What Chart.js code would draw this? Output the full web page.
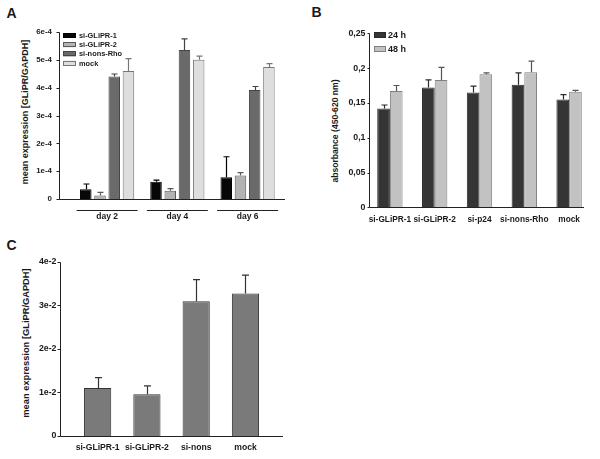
<!DOCTYPE html>
<html><head><meta charset="UTF-8"><title>GLiPR knockdown</title>
<script src="https://cdn.jsdelivr.net/npm/chart.js"></script>
<style>
    body { margin: 0; background: #fff; width: 600px; height: 459px; position: relative; overflow: hidden; font-family: "Liberation Sans", Arial, sans-serif; color: #1a1a1a; }
    canvas { position: absolute; }
    .letter { position: absolute; font-weight: bold; font-size: 14px; line-height: 14px; }
    .ytitle { position: absolute; font-weight: bold; white-space: nowrap; transform: translate(-50%, -50%) rotate(-90deg); }
</style></head><body>

<div class="letter" style="left:6.5px;top:5.5px">A</div>
<div class="letter" style="left:311.5px;top:5px">B</div>
<div class="letter" style="left:6.5px;top:237.5px">C</div>

<div class="ytitle" style="left:25px;top:112px;font-size:9px">mean expression [GLiPR/GAPDH]</div>
<div class="ytitle" style="left:334.5px;top:130.5px;font-size:8.6px">absorbance (450-620 nm)</div>
<div class="ytitle" style="left:26px;top:343px;font-size:9.3px">mean expression [GLiPR/GAPDH]</div>

<canvas id="chartA" width="300" height="230" style="left:0;top:0"></canvas>
<canvas id="chartB" width="300" height="230" style="left:300px;top:0"></canvas>
<canvas id="chartC" width="300" height="229" style="left:0;top:230px"></canvas>

<script>
// --- panel A: GLiPR expression over time ---
const daysA = ['day 2', 'day 4', 'day 6'];
const seriesA = ['si-GLiPR-1', 'si-GLiPR-2', 'si-nons-Rho', 'mock'];
const aGlipr1 = [3.5e-5, 6.2e-5, 7.8e-5];
const aGlipr1Err = [1.9e-5, 0.6e-5, 7.4e-5];
const aGlipr2 = [1.3e-5, 3.0e-5, 8.5e-5];
const aGlipr2Err = [1.1e-5, 0.7e-5, 1.0e-5];
const aNonsRho = [4.41e-4, 5.36e-4, 3.92e-4];
const aNonsRhoErr = [0.09e-4, 0.40e-4, 0.13e-4];
const aMock = [4.61e-4, 5.01e-4, 4.75e-4];
const aMockErr = [0.44e-4, 0.13e-4, 0.12e-4];
const aTickLabels = ['0', '1e-4', '2e-4', '3e-4', '4e-4', '5e-4', '6e-4'];

// --- panel B: proliferation (absorbance) ---
const cellsB = ['si-GLiPR-1', 'si-GLiPR-2', 'si-p24', 'si-nons-Rho', 'mock'];
const seriesB = ['24 h', '48 h'];
const b24h = [0.142, 0.172, 0.165, 0.176, 0.155];
const b24hErr = [0.005, 0.011, 0.009, 0.017, 0.007];
const b48h = [0.167, 0.183, 0.191, 0.194, 0.166];
const b48hErr = [0.008, 0.018, 0.002, 0.016, 0.002];
const bTickLabels = ['0', '0,05', '0,1', '0,15', '0,2', '0,25'];

// --- panel C: GLiPR expression ---
const cellsC = ['si-GLiPR-1', 'si-GLiPR-2', 'si-nons', 'mock'];
const cExpr = [1.10e-2, 0.96e-2, 3.09e-2, 3.27e-2];
const cExprErr = [0.24e-2, 0.19e-2, 0.50e-2, 0.42e-2];
const cTickLabels = ['0', '1e-2', '2e-2', '3e-2', '4e-2'];

const FONT = '"Liberation Sans", Arial, sans-serif';

// axis lines, error bars, day underlines and legend, all from the chart's own scales
const framePlugin = {
    id: 'frame',
    afterDatasetsDraw(chart, args, o) {
        const ctx = chart.ctx, x = chart.scales.x, y = chart.scales.y;
        ctx.save();

        chart.data.datasets.forEach((ds, i) => {
            if (!ds.errors) return;
            ctx.strokeStyle = ds.errColor || '#222';
            ctx.lineWidth = 1.2;
            chart.getDatasetMeta(i).data.forEach((bar, j) => {
                const top = y.getPixelForValue(ds.data[j] + ds.errors[j]);
                const bx = Math.round(bar.x) + 0.5;
                ctx.beginPath();
                ctx.moveTo(bx, bar.y); ctx.lineTo(bx, top);
                ctx.moveTo(bx - o.cap, top); ctx.lineTo(bx + o.cap, top);
                ctx.stroke();
            });
        });

        ctx.strokeStyle = '#222';
        ctx.lineWidth = 1;
        const ax = o.axisX + 0.5;
        const y0 = Math.round(y.getPixelForValue(0)) + 0.5;
        ctx.beginPath();
        ctx.moveTo(ax, Math.round(y.getPixelForValue(y.max)) + 0.5);
        ctx.lineTo(ax, y0);
        y.ticks.forEach(t => {
            const py = Math.round(y.getPixelForValue(t.value)) + 0.5;
            ctx.moveTo(ax - o.tickLen, py); ctx.lineTo(ax, py);
        });
        ctx.moveTo(ax, y0); ctx.lineTo(o.baseEnd, y0);
        if (o.underY) {
            x.ticks.forEach((t, i) => {
                const cx = x.getPixelForTick(i);
                ctx.moveTo(cx - o.under, o.underY + 0.5); ctx.lineTo(cx + o.under, o.underY + 0.5);
            });
        }
        ctx.stroke();

        const lg = o.legend;
        if (lg) {
            ctx.font = 'bold ' + lg.size + 'px ' + FONT;
            ctx.textBaseline = 'middle';
            ctx.textAlign = 'left';
            chart.data.datasets.forEach((ds, i) => {
                const cy = lg.y + i * lg.step;
                ctx.fillStyle = ds.backgroundColor;
                ctx.fillRect(lg.x, cy - lg.h / 2, lg.w, lg.h);
                ctx.strokeStyle = ds.borderColor;
                ctx.strokeRect(lg.x + 0.5, Math.round(cy - lg.h / 2) + 0.5, lg.w - 1, lg.h - 1);
                ctx.fillStyle = '#1a1a1a';
                ctx.fillText(ds.label, lg.x + lg.w + lg.gap, cy + 0.5);
            });
        }
        ctx.restore();
    }
};

function panel(id, cfg) {
    return new Chart(document.getElementById(id), {
        type: 'bar',
        data: { labels: cfg.labels, datasets: cfg.datasets },
        options: {
            responsive: false,
            animation: false,
            layout: { padding: { left: 0, right: cfg.padRight, top: cfg.padTop, bottom: 0 } },
            plugins: { legend: { display: false }, tooltip: { enabled: false }, frame: cfg.frame },
            datasets: { bar: { categoryPercentage: cfg.catPct, barPercentage: cfg.barPct, borderWidth: 1 } },
            scales: {
                x: {
                    grid: { display: false, drawTicks: false },
                    border: { display: false },
                    ticks: { padding: cfg.xPad, color: '#1a1a1a', maxRotation: 0, autoSkip: false,
                             font: { family: FONT, size: cfg.xFont, weight: 'bold' } },
                    afterFit: s => { s.height = cfg.xHeight; }
                },
                y: {
                    min: 0, max: cfg.yMax,
                    grid: { display: false, drawTicks: false },
                    border: { display: false },
                    ticks: { stepSize: cfg.step, padding: cfg.yPad, color: '#1a1a1a',
                             font: { family: FONT, size: cfg.yFont, weight: 'bold' },
                             callback: (v, i) => cfg.tickLabels[i] },
                    afterFit: s => { s.width = cfg.yWidth; }
                }
            }
        },
        plugins: [framePlugin]
    });
}

const colA = ['#070707', '#b3b3b3', '#6a6a6a', '#dedede'];
const edgeA = ['#000000', '#5a5a5a', '#444444', '#777777'];
const valsA = [aGlipr1, aGlipr2, aNonsRho, aMock];
const errsA = [aGlipr1Err, aGlipr2Err, aNonsRhoErr, aMockErr];

panel('chartA', {
    labels: daysA,
    datasets: seriesA.map((s, i) => ({
        label: s, data: valsA[i], errors: errsA[i],
        backgroundColor: colA[i], borderColor: edgeA[i], errColor: edgeA[i]
    })),
    yMax: 6e-4, step: 1e-4, tickLabels: aTickLabels,
    yWidth: 72, yPad: 20, yFont: 7.9,
    padTop: 32.3, padRight: 17.3, xHeight: 31, xPad: 13, xFont: 8.5,
    catPct: 0.81, barPct: 0.81,
    frame: { axisX: 59, tickLen: 3, baseEnd: 285, cap: 3, underY: 210, under: 30.5,
             legend: { x: 63, y: 35.5, step: 9.2, w: 13, h: 5, gap: 3, size: 7.4 } }
});

panel('chartB', {
    labels: cellsB,
    datasets: [
        { label: seriesB[0], data: b24h, errors: b24hErr, backgroundColor: '#353535', borderColor: '#2a2a2a', errColor: '#2a2a2a' },
        { label: seriesB[1], data: b48h, errors: b48hErr, backgroundColor: '#c2c2c2', borderColor: '#808080', errColor: '#555555' }
    ],
    yMax: 0.25, step: 0.05, tickLabels: bTickLabels,
    yWidth: 67.5, yPad: 2, yFont: 8.8,
    padTop: 33.3, padRight: 8.5, xHeight: 22.7, xPad: 7, xFont: 8.3,
    catPct: 0.566, barPct: 1,
    frame: { axisX: 69, tickLen: 2, baseEnd: 284, cap: 3,
             legend: { x: 74, y: 35, step: 14, w: 12, h: 6, gap: 2, size: 9 } }
});

panel('chartC', {
    labels: cellsC,
    datasets: [
        { label: '', data: cExpr, errors: cExprErr, backgroundColor: '#7a7a7a', borderColor: '#333333', errColor: '#333333' }
    ],
    yMax: 4e-2, step: 1e-2, tickLabels: cTickLabels,
    yWidth: 73, yPad: 16.5, yFont: 8.8,
    padTop: 31.7, padRight: 29.9, xHeight: 23, xPad: 6.5, xFont: 8.6,
    catPct: 0.552, barPct: 1,
    frame: { axisX: 60, tickLen: 3, baseEnd: 283, cap: 3.5, legend: null }
});
</script>
</body></html>
